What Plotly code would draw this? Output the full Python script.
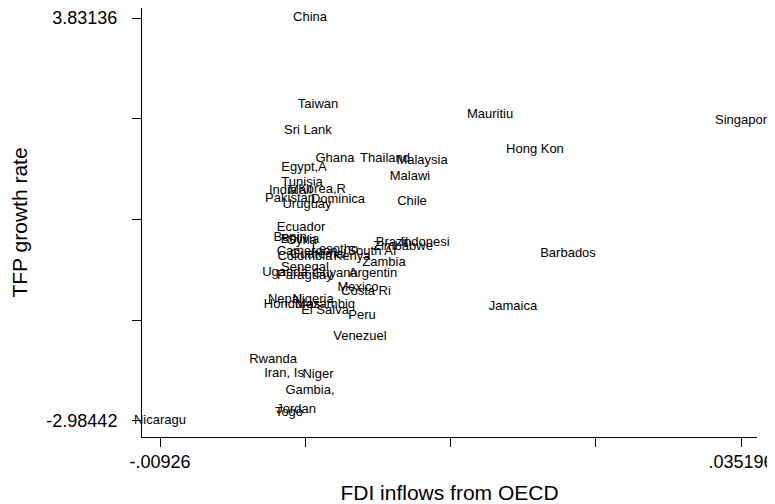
import plotly.graph_objects as go

countries = ["China", "Taiwan", "Mauritiu", "Singapor", "Sri Lank", "Hong Kon", "Ghana", "Thailand",
             "Malaysia", "Egypt,A", "Malawi", "Tunisia", "India", "Mali", "Korea,R", "Pakistan",
             "Dominica", "Uruguay", "Chile", "Ecuador", "Benin", "Bolivia", "Syria", "Brazil",
             "Indonesi", "Zimbabwe", "Cameroon", "Lesotho", "Guatemal", "South Af", "Colombia",
             "Kenya", "Zambia", "Senegal", "Uganda", "Paraguay", "Guyana", "Argentin", "Mexico",
             "Costa Ri", "Nepal", "Nigeria", "Honduras", "Mozambiq", "El Salva", "Peru", "Jamaica",
             "Barbados", "Venezuel", "Rwanda", "Iran, Is", "Niger", "Gambia,", "Jordan", "Togo",
             "Nicaragu"]

fdi = [0.00222, 0.00283, 0.01599, 0.035196, 0.00206, 0.01943, 0.00413, 0.00796,
       0.01079, 0.00176, 0.00987, 0.00161, 0.00015, 0.00145, 0.00314, 0.00069,
       0.00436, 0.00199, 0.01002, 0.00153, 0.00069, 0.00145, 0.00161, 0.00849,
       0.01102, 0.00933, 0.00199, 0.00413, 0.00283, 0.00696, 0.00183,
       0.00543, 0.00788, 0.00183, 0.00030, 0.00183, 0.00413, 0.00704, 0.00589,
       0.00650, 0.00030, 0.00245, 0.00084, 0.00337, 0.00337, 0.00620, 0.01775,
       0.02196, 0.00604, -0.00061, 0.00023, 0.00283, 0.00222, 0.00115, 0.00061,
       -0.00926]

tfp = [3.83136, 2.360, 2.191, 2.089, 1.920, 1.599, 1.447, 1.447,
       1.413, 1.294, 1.142, 1.041, 0.905, 0.905, 0.922, 0.770,
       0.753, 0.669, 0.719, 0.280, 0.111, 0.077, 0.060, 0.026,
       0.026, -0.042, -0.126, -0.092, -0.177, -0.126, -0.211,
       -0.211, -0.313, -0.397, -0.482, -0.532, -0.499, -0.499, -0.735,
       -0.803, -0.938, -0.938, -1.023, -1.023, -1.124, -1.209, -1.057,
       -0.160, -1.564, -1.953, -2.190, -2.207, -2.477, -2.799, -2.849,
       -2.98442]

x_ticks = [-0.00926, 0.001854, 0.012968, 0.024082, 0.035196]
x_ticktext = ["-.00926", "", "", "", ".035196"]
y_ticks = [-2.98442, -1.280475, 0.42347, 2.127415, 3.83136]
y_ticktext = ["-2.98442", "", "", "", "3.83136"]

FONT = "Liberation Sans, Arial, Helvetica, sans-serif"

fig = go.Figure(go.Scatter(
    x=fdi, y=tfp, text=countries, mode="text",
    textposition="middle center",
    textfont=dict(family=FONT, size=13, color="black"),
    hoverinfo="text",
    cliponaxis=False,
))

# the page body has an 8px default margin, so the figure is sized to fit the 775x504 window
fig.update_layout(
    width=767, height=496,
    margin=dict(l=134, r=18, t=0, b=67),
    paper_bgcolor="white", plot_bgcolor="white",
    showlegend=False,
    font=dict(family=FONT, color="black"),
    xaxis=dict(
        range=[-0.010637, 0.03642],
        tickvals=x_ticks, ticktext=x_ticktext,
        ticks="outside", ticklen=9, tickwidth=1, tickcolor="black",
        tickfont=dict(size=18),
        ticklabelstandoff=-1,
        showline=True, linecolor="black", linewidth=1,
        showgrid=False, zeroline=False,
        title=dict(text="FDI inflows from OECD", font=dict(size=21), standoff=20),
        automargin=False,
    ),
    yaxis=dict(
        range=[-3.2553, 4.0005],
        tickvals=y_ticks, ticktext=y_ticktext,
        ticks="outside", ticklen=9, tickwidth=1, tickcolor="black",
        tickfont=dict(size=18),
        ticklabelstandoff=11,
        showline=True, linecolor="black", linewidth=1,
        showgrid=False, zeroline=False,
        title=dict(text="TFP growth rate", font=dict(size=21), standoff=16),
        automargin=False,
    ),
)

fig.write_html("out.html")
